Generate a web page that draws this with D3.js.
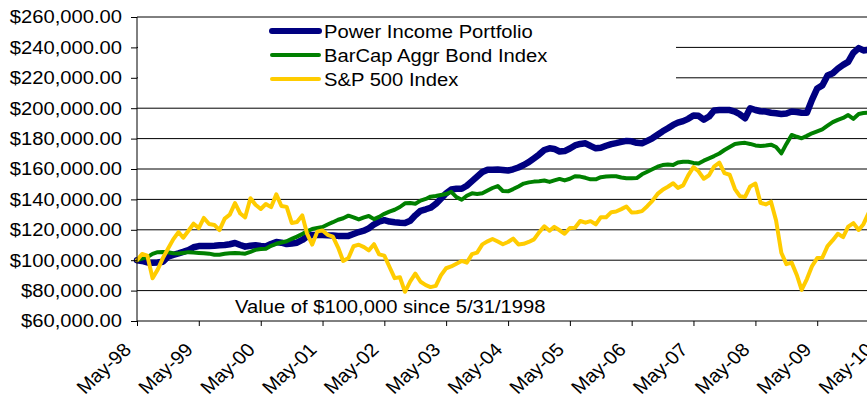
<!DOCTYPE html>
<html>
<head>
<meta charset="utf-8">
<script src="https://cdn.jsdelivr.net/npm/d3@7"></script>
<style>
  html, body { margin: 0; padding: 0; background: #fff; }
  svg { display: block; font-family: "Liberation Sans", Arial, sans-serif; }
</style>
</head>
<body>
<svg id="chart" width="867" height="400"></svg>
<script>
// ---- Data (values in thousands of dollars, month-end from May-98) ----
const seriesNames = ["Power Income Portfolio", "BarCap Aggr Bond Index", "S&P 500 Index"];
const seriesColors = ["#000080", "#008000", "#FFCC00"];
const seriesWidths = [6.5, 4, 4];

const powerIncome = [
  100, 99.5, 98.5, 98.3, 98.5, 99, 102.3, 103.5, 104.5, 105.5, 106.7, 108.5,
  109.3, 109.3, 109.3, 109.5, 109.8, 110, 110.5, 111.3, 110, 108.9, 109.5, 109.8,
  109.3, 109, 110.7, 112, 111.5, 110.6, 111, 111.5, 113.3, 115.5, 116.6, 116.6,
  116.6, 116.4, 116.3, 116, 115.9, 116, 117.2, 118.5, 119.4, 121, 123.5, 125.4,
  126.3, 125.4, 125, 124.7, 124.5, 126, 129.5, 132.5, 133.5, 134.5, 137, 140.5,
  144, 146.5, 147, 147, 149, 152, 155, 158, 159.5, 159.5, 159.6, 159.4,
  159, 159.8, 161, 162.6, 164.5, 167, 169.5, 172.5, 173.6, 173.2, 171.5, 171.8,
  173.5, 175.5, 176.5, 176.9, 175.2, 173.6, 174, 175.3, 176.4, 177, 177.8, 178.5,
  178.2, 177.2, 176.9, 178.5, 180.2, 182.5, 184.8, 186.8, 189, 190.5, 191.5, 193,
  195.2, 195, 192.5, 194.5, 198.5, 198.8, 198.8, 198.8, 197.8, 196, 193.4, 200,
  198.8, 198, 197.8, 197, 196.7, 196.2, 196.5, 197.8, 197.5, 197, 197, 205.5,
  213, 215, 221.5, 223, 226, 228.5, 230.5, 236.5, 239.5, 238, 238.5
];
const barcapAgg = [
  100, 101, 102, 104.2, 105.3, 105.4, 105.2, 104.6, 104.4, 104.8, 105.3, 105,
  104.8, 104.6, 104.3, 103.6, 103.6, 104.2, 104.6, 104.8, 104.5, 104.3, 105.5, 106.8,
  107.3, 107.6, 109.5, 110.8, 111.6, 112.5, 114, 115.5, 117.3, 119, 120.5, 121.2,
  121.8, 123.5, 125, 126.6, 127.6, 129.3, 128.2, 126.8, 128.2, 129.1, 127, 128.5,
  130.5, 132, 133.2, 135, 137.4, 137.6, 137.2, 139.2, 140.3, 141.8, 142.2, 142.9,
  143.5, 145, 141.5, 139.8, 142.4, 144, 143.6, 144, 145.8, 147.5, 148.8, 145.5,
  145.3, 146.8, 148.5, 150.4, 151.2, 151.7, 152, 152.4, 151.5, 152.5, 153.5, 152.5,
  153.6, 155.2, 155, 154.2, 153.2, 153.2, 154.6, 155, 155.2, 155.2, 154.4, 153.9,
  153.9, 154, 156.5, 158.2, 159.8, 161.5, 162.6, 163, 162.6, 164.3, 164.8, 164.8,
  164, 163.6, 165.5, 167, 168.5, 170.2, 172.5, 174.5, 176.5, 177, 177.2, 176.5,
  175.5, 175.1, 175.5, 176, 174.5, 170.3, 176.5, 182.4, 181.2, 180.2, 181.8, 183.5,
  184.8, 186.1, 188.5, 190.8, 192.3, 193.6, 195.5, 193, 196.2, 196.8, 197
];
const sp500 = [
  100, 104.1, 103.0, 88.1, 93.8, 101.4, 107.5, 113.7, 118.5, 114.8, 119.4, 124.0,
  121.1, 127.8, 123.8, 123.2, 119.8, 127.4, 130.0, 137.6, 130.7, 128.2, 140.8, 136.5,
  133.7, 137.0, 134.9, 143.3, 135.7, 135.1, 124.5, 125.1, 129.5, 117.7, 110.3, 118.8,
  119.6, 116.7, 115.5, 108.3, 99.5, 101.4, 109.2, 110.2, 108.6, 106.5, 110.5, 103.8,
  103.0, 95.7, 88.2, 88.8, 79.2, 86.1, 91.2, 85.8, 83.6, 82.3, 83.1, 90.0,
  94.7, 95.9, 97.7, 99.5, 98.4, 104.0, 105.0, 110.4, 112.4, 114.0, 112.3, 110.5,
  112.0, 114.2, 110.4, 110.8, 112.0, 113.7, 118.3, 122.3, 119.4, 121.9, 119.7, 117.4,
  121.2, 121.3, 125.8, 124.7, 125.7, 123.6, 128.3, 128.3, 131.6, 132.0, 133.6, 135.3,
  131.4, 131.5, 132.3, 135.5, 139.0, 143.6, 146.3, 148.3, 150.6, 147.6, 149.2, 155.8,
  161.2, 158.5, 153.6, 155.9, 161.6, 164.2, 157.3, 156.2, 146.8, 142.1, 141.6, 148.5,
  150.4, 137.8, 136.7, 138.5, 126.1, 104.9, 97.4, 98.4, 90.1, 80.5, 87.6, 96.0,
  101.4, 101.6, 109.3, 113.2, 117.4, 115.2, 122.1, 124.4, 119.9, 123.7, 131.1
];
const yTicks = [60000, 80000, 100000, 120000, 140000, 160000, 180000, 200000, 220000, 240000, 260000];
const xTickLabels = ["May-98","May-99","May-00","May-01","May-02","May-03","May-04","May-05","May-06","May-07","May-08","May-09","May-10"];
const annotation = "Value of $100,000 since 5/31/1998";
const UNIT = 1000;

// ---- Chart ----
const W = 867, H = 400;
const svg = d3.select("#chart");
const fontSize = 18.7;
const SX = 1.08; // slight horizontal stretch of the reference's lettering
const ff = "'Liberation Sans', Arial, sans-serif";

const monthEnd = i => d3.timeDay.offset(d3.timeMonth.offset(new Date(1998, 5, 1), i), -1);
const x = d3.scaleTime()
  .domain([new Date(1998, 4, 31), new Date(2010, 4, 31)])
  .range([137, 879]);
const y = d3.scaleLinear().domain([60000, 260000]).range([321, 17]);

svg.append("defs").append("clipPath").attr("id", "clip")
  .append("rect").attr("x", 0).attr("y", 0).attr("width", W).attr("height", H);

const root = svg.append("g").attr("clip-path", "url(#clip)");

// gridlines
root.append("g").selectAll("line").data(yTicks.filter(v => v > 60000)).join("line")
  .attr("x1", 137).attr("x2", W)
  .attr("y1", d => y(d)).attr("y2", d => y(d))
  .attr("stroke", "#000").attr("stroke-width", 1);

// legend backdrop (covers gridlines)
root.append("rect").attr("x", 138).attr("y", 20).attr("width", 676 - 138).attr("height", 72)
  .attr("fill", "#fff");

// series lines (drawn in series order, S&P on top)
const allSeries = [powerIncome, barcapAgg, sp500];
const line = d3.line().x((d, i) => x(monthEnd(i))).y(d => y(d * UNIT));
[0, 1, 2].forEach(k => {
  root.append("path").datum(allSeries[k])
    .attr("d", line)
    .attr("fill", "none")
    .attr("stroke", seriesColors[k])
    .attr("stroke-width", seriesWidths[k])
    .attr("stroke-linejoin", "round")
    .attr("stroke-linecap", "round");
});

// y axis
const yAxis = d3.axisLeft(y).tickValues(yTicks).tickSize(6).tickPadding(9)
  .tickFormat(d => "$" + d3.format(",.2f")(d));
const gy = root.append("g").attr("transform", "translate(137,0)").call(yAxis);
gy.select(".domain").attr("d", "M0,17V321").attr("stroke", "#000");
gy.selectAll(".tick line").attr("stroke", "#000");
gy.selectAll("text")
  .attr("font-size", fontSize).attr("fill", "#000").attr("font-family", ff)
  .attr("x", 0)
  .attr("transform", `translate(-15,0) scale(${SX},1)`);

// x axis
const tickDates = xTickLabels.map((_, i) => new Date(1998 + i, 4, 31));
const xAxis = d3.axisBottom(x).tickValues(tickDates).tickSize(5)
  .tickFormat((d, i) => xTickLabels[i]);
const gx = root.append("g").attr("transform", "translate(0,321)").call(xAxis);
gx.select(".domain").attr("d", "M137,0H" + W).attr("stroke", "#000");
gx.selectAll(".tick line").attr("stroke", "#000");
gx.selectAll("text")
  .attr("font-size", 18.7).attr("fill", "#000").attr("font-family", ff)
  .attr("text-anchor", "end")
  .attr("x", 0).attr("y", 0).attr("dy", null)
  .attr("transform", `translate(-5,30) scale(${SX},1) rotate(-45)`);

// legend
const lg = root.append("g");
seriesNames.forEach((name, i) => {
  const cy = 31 + i * 24;
  lg.append("line").attr("x1", 272).attr("x2", 319).attr("y1", cy).attr("y2", cy)
    .attr("stroke", seriesColors[i]).attr("stroke-width", i === 0 ? 6 : 4)
    .attr("stroke-linecap", "round");
  lg.append("text").attr("x", 0).attr("y", 0).attr("dy", "0.35em")
    .attr("transform", `translate(324,${cy}) scale(${SX},1)`)
    .attr("font-size", fontSize).attr("fill", "#000").attr("font-family", ff).text(name);
});

// annotation
root.append("text").attr("x", 0).attr("y", 0)
  .attr("transform", `translate(235,313) scale(${SX},1)`)
  .attr("font-size", fontSize).attr("fill", "#000").attr("font-family", ff).text(annotation);
</script>
</body>
</html>
